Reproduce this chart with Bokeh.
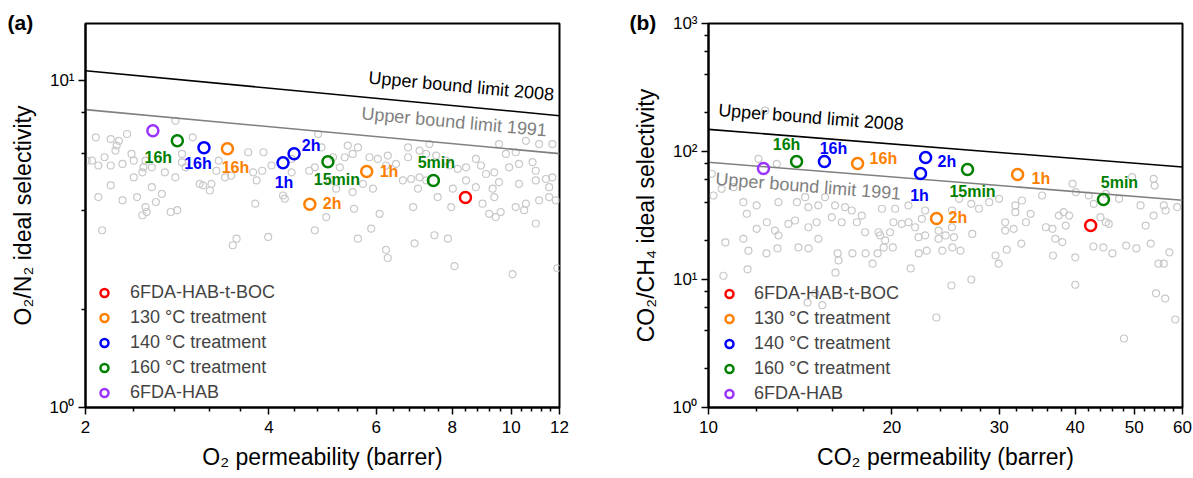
import math
from bokeh.plotting import figure
from bokeh.layouts import row
from bokeh.models import ColumnDataSource, FixedTicker, Legend, LegendItem, Label, Title
from bokeh.core.properties import value
from bokeh.embed import file_html
from bokeh.resources import INLINE

FONT = "Liberation Sans"
SERIES = ["6FDA-HAB-t-BOC", "130 °C treatment", "140 °C treatment",
          "160 °C treatment", "6FDA-HAB"]
COLORS = ["#FF0000", "#FF8000", "#0000FF", "#008000", "#9933FF"]

# ---------------- (a) O2/N2 ----------------
o2_lit_x = [2.08, 2.20, 2.27, 2.34, 2.25, 2.24, 2.15, 2.05, 2.10, 2.20, 2.30, 2.38, 2.40, 2.51,
            2.49, 2.40, 2.20, 2.10, 2.30, 2.43, 2.57, 2.67, 2.61, 2.51, 2.52, 2.48, 2.76, 2.83,
            2.70, 2.81, 2.88, 2.88, 2.92, 3.00, 3.08, 3.12, 3.20, 3.22, 3.28, 3.39, 3.47, 3.70,
            3.77, 3.90, 3.82, 3.92, 4.04, 3.80, 4.22, 4.25, 4.36, 4.76, 3.99, 3.54, 3.49, 2.13,
            2.81, 4.82, 4.76, 4.66, 4.36, 2.57, 2.48, 2.01, 3.31,
            4.88, 5.39, 5.60, 5.49, 5.33, 5.23, 5.85, 6.04, 6.27, 6.23, 6.47, 6.77, 6.77, 6.64,
            6.85, 7.07, 7.25, 7.03, 7.25, 7.53, 7.82, 7.92, 8.17, 8.43, 8.75, 8.92, 9.09, 9.38,
            9.55, 9.32, 9.92, 10.30, 10.30, 10.84, 10.97, 10.97, 11.40, 11.54, 11.68, 11.54,
            11.11, 10.57, 10.50, 10.17, 9.61, 9.43, 9.20, 8.97, 9.38, 8.75, 8.43, 8.02, 7.97,
            7.57, 6.90, 6.08, 5.52, 4.97, 5.16, 5.89, 5.60, 6.23, 6.27, 6.94, 7.48, 7.87, 8.07,
            10.05, 10.97, 11.83, 9.80, 10.17, 11.68, 11.11, 9.55, 10.57, 5.10, 5.04, 5.71, 5.93,
            5.49, 7.34, 7.07, 11.90]
o2_lit_y = [6.72, 6.64, 6.56, 6.88, 6.34, 6.12, 5.84, 5.70, 5.51, 5.51, 5.57, 5.98, 5.70, 5.70,
            5.44, 5.07, 4.79, 4.41, 4.31, 4.41, 4.73, 4.51, 4.26, 4.11, 3.97, 3.88, 3.97, 4.02,
            5.25, 5.07, 5.98, 5.63, 5.44, 6.72, 4.84, 4.79, 4.62, 4.84, 5.31, 5.07, 5.13, 6.05,
            5.25, 5.31, 4.96, 6.05, 5.51, 4.21, 4.46, 4.36, 5.25, 3.49, 3.33, 3.29, 3.14, 3.49,
            7.55, 6.88, 5.44, 5.31, 5.77, 5.44, 5.25, 5.70, 5.70,
            6.26, 6.34, 6.26, 5.98, 5.84, 5.44, 5.84, 5.77, 5.91, 5.51, 5.57, 6.26, 5.84, 4.96,
            5.01, 5.07, 4.96, 4.68, 5.98, 5.91, 5.70, 5.51, 5.38, 5.44, 5.77, 5.51, 5.19, 5.25,
            4.90, 4.68, 5.44, 5.57, 4.84, 5.64, 5.31, 4.96, 5.01, 4.73, 5.07, 4.41,
            4.31, 4.21, 4.02, 4.11, 3.97, 3.83, 3.92, 4.21, 4.41, 4.73, 4.96, 4.68, 4.11,
            4.41, 4.11, 3.92, 4.06, 3.83, 4.68, 3.53, 3.29, 3.04, 2.87, 3.18, 3.37, 3.29, 2.71,
            2.56, 3.66, 4.31, 5.98, 6.05, 6.41, 6.41, 6.41, 6.56, 5.84, 4.96, 4.84, 4.68,
            4.57, 6.41, 6.12, 2.67]

o2_tboc_x = [8.41]
o2_tboc_y = [4.40]
o2_tboc_t = [""]
o2_130_x = [3.42, 5.79, 4.67]
o2_130_y = [6.20, 5.28, 4.19]
o2_130_t = ["16h", "1h", "2h"]
o2_140_x = [3.13, 4.22, 4.40]
o2_140_y = [6.25, 5.62, 5.99]
o2_140_t = ["16h", "1h", "2h"]
o2_160_x = [2.83, 5.00, 7.45]
o2_160_y = [6.56, 5.66, 4.96]
o2_160_t = ["16h", "15min", "5min"]
o2_hab_x = [2.58]
o2_hab_y = [7.04]
o2_hab_t = [""]

o2_bound_x = [2, 12]
o2_bound_1991 = [8.17, 5.99]
o2_bound_2008 = [10.75, 7.83]

# ---------------- (b) CO2/CH4 ----------------
co2_lit_x = [12.39, 12.08, 12.95, 10.13, 10.51, 10.99, 10.19, 11.41, 12.00, 13.03, 13.97, 14.41,
             14.59, 15.15, 15.54, 16.14, 16.76, 17.19, 17.85, 19.26, 20.25, 21.30, 22.69, 11.56,
             12.00, 12.47, 12.86, 13.03, 13.53, 13.87, 14.59, 15.05, 15.94, 16.55, 17.52, 18.08,
             19.02, 19.87, 20.12, 20.77, 21.30, 21.84, 22.40, 22.69, 23.86, 11.41, 15.15, 19.14,
             19.50, 22.12, 23.86,
             25.8, 27.0, 27.8, 25.1, 28.9, 30.0, 32.7, 31.9, 31.9, 33.8, 35.3, 37.6, 38.3, 39.1,
             39.6, 40.1, 42.1, 42.9, 44.9, 44.0, 44.9, 45.4, 47.2, 49.6, 51.2, 53.8, 54.0, 55.9,
             56.3, 53.8, 52.2, 58.8, 30.7, 31.7, 33.2, 35.8, 36.7, 37.1, 38.1, 38.6, 25.1, 24.5,
             25.3, 27.1, 30.7,
             10.66, 11.63, 11.59, 10.58, 12.45, 12.98, 14.05, 14.60, 14.54, 14.98, 15.38, 16.16,
             16.29, 16.35, 17.23, 18.11, 18.59, 18.95, 19.39, 20.07, 21.47, 22.14, 22.82, 24.21,
             25.14, 25.93, 25.05, 27.01, 23.67, 29.60, 29.95, 30.87, 32.63, 36.78, 40.01, 40.01,
             42.85, 44.5, 46.04, 48.5, 50.4, 53.2, 57.1, 54.8, 55.9, 54.3, 56.2, 58.4, 48.1]
co2_lit_y = [209, 87.7, 80.1, 67.0, 51.1, 52.6, 45.3, 40.2, 37.9, 40.2, 40.2, 44.0,
             36.7, 37.9, 44.0, 37.9, 36.7, 34.6, 31.6, 35.7, 35.7, 37.9, 34.6, 32.6,
             24.9, 28.0, 24.1, 22.1, 27.2, 28.9, 25.6, 28.0, 30.7, 28.0, 28.0, 23.4,
             23.4, 23.4, 28.0, 27.2, 28.0, 25.6, 29.8, 22.1, 24.1, 20.8, 20.8, 22.1,
             20.2, 21.4, 20.8,
             42.7, 39.0, 35.7, 34.6, 40.2, 42.7, 41.4, 37.9, 33.6, 32.6, 45.3, 31.6, 33.6, 31.6,
             55.9, 48.1, 45.3, 39.0, 46.7, 30.7, 28.0, 27.2, 42.7, 63.0, 37.9, 61.2, 54.2, 37.9,
             34.6, 31.6, 26.4, 36.8, 28.0, 24.9, 28.0, 25.6, 24.9, 20.8, 19.6, 26.4, 25.6, 22.1,
             21.4, 22.7, 24.1,
             19.5, 16.8, 12.0, 10.7, 16.0, 17.5, 17.8, 17.5, 6.6, 7.8, 6.3, 11.3,
             16.0, 14.1, 16.0, 16.0, 13.3, 16.0, 17.8, 17.8, 12.2, 16.0, 16.8, 16.8,
             17.8, 16.8, 8.98, 10.0, 5.05, 15.4, 13.3, 17.1, 19.1, 15.4, 14.9, 9.1,
             18.1, 17.8, 16.0, 18.4, 17.5, 19.1, 16.3, 13.3, 13.3, 7.8, 7.1, 4.87, 3.46]

co2_tboc_x = [42.4]
co2_tboc_y = [26.4]
co2_tboc_t = [""]
co2_130_x = [17.57, 32.17, 23.68]
co2_130_y = [80.6, 66.1, 30.0]
co2_130_t = ["16h", "1h", "2h"]
co2_140_x = [15.50, 22.29, 22.72]
co2_140_y = [83.5, 67.3, 89.8]
co2_140_t = ["16h", "1h", "2h"]
co2_160_x = [13.95, 26.62, 44.5]
co2_160_y = [83.5, 72.3, 42.2]
co2_160_t = ["16h", "15min", "5min"]
co2_hab_x = [12.31]
co2_hab_y = [73.7]
co2_hab_t = [""]

co2_bound_x = [10, 60]
co2_bound_1991 = [82.4, 41.6]
co2_bound_2008 = [149, 75.6]

# screen offsets (px, y downwards) and alignment of the time annotations
o2_label_pos = [
    [(0, 0, "center")],
    [(8, 19, "center"), (13, 0, "left"), (13, -1, "left")],
    [(-6, 16, "center"), (1, 20, "center"), (17, -8, "center")],
    [(-19, 17, "center"), (9, 18, "center"), (3, -18, "center")],
    [(0, 0, "center")],
]
co2_label_pos = [
    [(0, 0, "center")],
    [(12, -5, "left"), (14, 4, "left"), (12, -1, "left")],
    [(9, -13, "center"), (-1, 22, "center"), (12, 4, "left")],
    [(-10, -17, "center"), (5, 22, "center"), (16, -17, "center")],
    [(0, 0, "center")],
]


def on_line(xs, ys, x):
    t = (math.log10(x) - math.log10(xs[0])) / (math.log10(xs[1]) - math.log10(xs[0]))
    return 10 ** (math.log10(ys[0]) + t * (math.log10(ys[1]) - math.log10(ys[0])))


def style_axis(ax, ticks, minor, labels):
    ax.ticker = FixedTicker(ticks=ticks, minor_ticks=minor)
    ax.major_label_overrides = labels
    ax.axis_line_width = 2
    ax.axis_line_color = "black"
    ax.major_tick_in = 0
    ax.major_tick_out = 7
    ax.minor_tick_in = 0
    ax.minor_tick_out = 4
    ax.major_tick_line_width = 1.5
    ax.minor_tick_line_width = 1.5
    ax.major_label_text_font = FONT
    ax.major_label_text_font_size = "17px"
    ax.major_label_text_color = "black"
    ax.axis_label_text_font = FONT
    ax.axis_label_text_font_size = "23px"
    ax.axis_label_text_font_style = "normal"
    ax.axis_label_text_color = "black"


def make_panel(tag, tag_offset, width, left, right, bottom, frame_h,
               xr, yr, xticks, xminor, yticks, yminor, ylabels, xlabel, ylabel,
               lit_x, lit_y, series, label_pos, bound_x, b1991, b2008, bound_texts,
               legend_xy, legend_standoff):
    p = figure(width=width, height=478, x_axis_type="log", y_axis_type="log",
               x_range=xr, y_range=yr, output_backend="svg", toolbar_location=None,
               min_border_left=left, min_border_right=right, min_border_top=23,
               min_border_bottom=bottom)
    p.xgrid.visible = False
    p.ygrid.visible = False
    p.outline_line_color = "black"
    p.outline_line_width = 2
    p.background_fill_color = "white"
    p.border_fill_color = "white"

    style_axis(p.xaxis[0], xticks, xminor, {t: f"{t:g}" for t in xticks})
    style_axis(p.yaxis[0], yticks, yminor, ylabels)
    p.xaxis[0].axis_label = xlabel
    p.yaxis[0].axis_label = ylabel
    p.xaxis[0].major_label_standoff = 6
    p.xaxis[0].axis_label_standoff = 8
    p.yaxis[0].major_label_standoff = 4
    p.yaxis[0].axis_label_standoff = 11

    p.scatter(lit_x, lit_y, size=7, marker="circle", fill_color=None,
              line_color="#c8c8c8", line_width=1.2)

    p.line(bound_x, b2008, line_color="black", line_width=1.6)
    p.line(bound_x, b1991, line_color="#808080", line_width=1.6)

    for (txt, color, bx, dy, align, ang, ys) in bound_texts:
        p.add_layout(Label(x=bx, y=on_line(bound_x, ys, bx), y_offset=dy, text=txt,
                           angle=ang, text_align=align, text_baseline="alphabetic",
                           text_font=FONT, text_font_size="18px", text_color=color))

    items = []
    lx, ly, lt, lc, ldx, ldy, lal = [], [], [], [], [], [], []
    for i, (sx, sy, st) in enumerate(series):
        r = p.scatter(sx, sy, size=11, marker="circle", fill_color=None,
                      line_color=COLORS[i], line_width=2.5)
        items.append(LegendItem(label=SERIES[i], renderers=[r]))
        for j, t in enumerate(st):
            if not t:
                continue
            dx, dyy, al = label_pos[i][j]
            lx.append(sx[j]); ly.append(sy[j]); lt.append(t); lc.append(COLORS[i])
            ldx.append(dx); ldy.append(dyy); lal.append(al)

    src = ColumnDataSource(dict(x=lx, y=ly, text=lt, color=lc, dx=ldx, dy=ldy, align=lal))
    p.text(x="x", y="y", text="text", source=src, x_offset="dx", y_offset="dy",
           text_align="align", text_baseline="middle", text_color="color",
           text_font=value(FONT), text_font_size="16px", text_font_style="bold")

    legend = Legend(items=items, location=legend_xy, padding=0, margin=0,
                    spacing=4, label_height=21, glyph_height=21, glyph_width=20,
                    label_standoff=legend_standoff, label_text_font=FONT,
                    label_text_font_size="18px", border_line_alpha=0,
                    background_fill_alpha=0)
    p.add_layout(legend)

    # panel tag in the top-left corner
    p.add_layout(Title(text=tag, align="left", offset=tag_offset, standoff=-21,
                       text_font=FONT, text_font_size="21px", text_font_style="bold",
                       text_color="black"), "above")
    return p


o2_series = [(o2_tboc_x, o2_tboc_y, o2_tboc_t), (o2_130_x, o2_130_y, o2_130_t),
             (o2_140_x, o2_140_y, o2_140_t), (o2_160_x, o2_160_y, o2_160_t),
             (o2_hab_x, o2_hab_y, o2_hab_t)]
co2_series = [(co2_tboc_x, co2_tboc_y, co2_tboc_t), (co2_130_x, co2_130_y, co2_130_t),
              (co2_140_x, co2_140_y, co2_140_t), (co2_160_x, co2_160_y, co2_160_t),
              (co2_hab_x, co2_hab_y, co2_hab_t)]

pa = make_panel(
    "(a)", -78, 600, 85, 41, 70, 385,
    (2, 12), (1, 15),
    [2, 4, 6, 8, 10, 12],
    [2 + 0.4 * k for k in range(1, 25) if k % 5 != 0],
    [1, 10], [2, 4, 6, 8],
    {1: "10⁰", 10: "10¹"},
    "O₂ permeability (barrer)", "O₂/N₂ ideal selectivity",
    o2_lit_x, o2_lit_y, o2_series, o2_label_pos,
    o2_bound_x, o2_bound_1991, o2_bound_2008,
    [("Upper bound limit 2008", "black", 11.75, 20.5, "right", -0.0925, o2_bound_2008),
     ("Upper bound limit 1991", "#808080", 11.44, 22, "right", -0.0925, o2_bound_1991)],
    (9, 4), 16)

pb = make_panel(
    "(b)", -79, 593, 108, 11, 71, 384,
    (10, 60), (1, 1000),
    [10, 20, 30, 40, 50, 60],
    [10 + 2 * k for k in range(1, 25) if k % 5 != 0],
    [1, 10, 100, 1000],
    [m * d for d in (1, 10, 100) for m in (2, 4, 6, 8)],
    {1: "10⁰", 10: "10¹", 100: "10²", 1000: "10³"},
    "CO₂ permeability (barrer)", "CO₂/CH₄ ideal selectivity",
    co2_lit_x, co2_lit_y, co2_series, co2_label_pos,
    co2_bound_x, co2_bound_1991, co2_bound_2008,
    [("Upper bound limit 2008", "black", 10.38, 20, "left", -0.078, co2_bound_2008),
     ("Upper bound limit 1991", "#808080", 10.27, -16, "left", -0.080, co2_bound_1991)],
    (11, 3), 15)

layout = row(pa, pb)
open("out.html", "w").write(file_html(layout, INLINE))
